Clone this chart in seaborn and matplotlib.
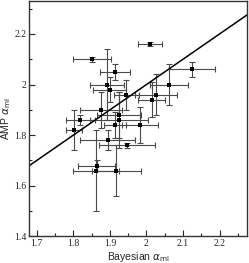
import numpy as np
import pandas as pd
import matplotlib
matplotlib.use('Agg')
import matplotlib.pyplot as plt
from matplotlib.ticker import MultipleLocator
import seaborn as sns

# values
bayes = [2.010, 1.852, 1.914, 1.892, 1.900, 1.945, 2.125, 2.063, 2.015, 2.027,
         1.875, 1.819, 1.802, 1.924, 1.925, 1.913, 1.983, 1.894, 1.946, 1.864,
         1.862, 1.918]
amp = [2.16, 2.10, 2.05, 2.00, 1.98, 1.96, 2.06, 2.00, 1.94, 1.96,
       1.90, 1.86, 1.82, 1.88, 1.86, 1.84, 1.84, 1.78, 1.76, 1.68,
       1.66, 1.66]
bayes_err = [0.032, 0.052, 0.040, 0.047, 0.045, 0.035, 0.062, 0.052, 0.037, 0.057,
             0.057, 0.040, 0.022, 0.060, 0.080, 0.030, 0.050, 0.075, 0.077, 0.051,
             0.062, 0.066]
amp_err = [0.007, 0.010, 0.030, 0.140, 0.050, 0.060, 0.030, 0.080, 0.070, 0.080,
           0.070, 0.020, 0.080, 0.090, 0.110, 0.050, 0.070, 0.040, 0.010, 0.020,
           0.160, 0.100]
diag = [1.68, 2.275]
xt = [1.7, 1.8, 1.9, 2.0, 2.1, 2.2]
xt_labels = ['1.7', '1.8', '1.9', '2', '2.1', '2.2']
yt = [1.4, 1.6, 1.8, 2.0, 2.2]
yt_labels = ['1.4', '1.6', '1.8', '2', '2.2']

df = pd.DataFrame({'bayes': bayes, 'amp': amp, 'xerr': bayes_err, 'yerr': amp_err})

sns.set_style('ticks')
fig = plt.figure(figsize=(2.49, 2.63), dpi=100)
ax = fig.add_axes([0.118, 0.101, 0.874, 0.897])

# error bars first, then the points on top
ax.errorbar(df.bayes, df.amp, xerr=df.xerr, yerr=df.yerr, fmt='none',
            ecolor='#4a4a4a', elinewidth=0.8, capsize=2.5, capthick=0.8)
sns.scatterplot(data=df, x='bayes', y='amp', ax=ax, color='black', marker='s',
                s=7, linewidth=0, zorder=3)
sns.lineplot(x=diag, y=diag, ax=ax, color='black', linewidth=1.1)

ax.set_xlim(1.68, 2.275)
ax.set_ylim(1.4, 2.332)
ax.set_xticks(xt)
ax.set_xticklabels(xt_labels)
ax.set_yticks(yt)
ax.set_yticklabels(yt_labels)
ax.xaxis.set_minor_locator(MultipleLocator(0.05))
ax.yaxis.set_minor_locator(MultipleLocator(0.1))
ax.tick_params(which='both', direction='in', width=0.8)
ax.tick_params(which='major', length=4, labelsize=7, pad=2)
ax.tick_params(which='minor', length=2)
for lab in ax.get_xticklabels() + ax.get_yticklabels():
    lab.set_fontfamily('Liberation Serif')
for sp in ax.spines.values():
    sp.set_linewidth(1.0)
    sp.set_color('#333333')

ax.set_xlabel(r'Bayesian $\alpha_{\rm ml}$', fontsize=7.5, family='Liberation Sans', labelpad=1)
ax.set_ylabel(r'AMP $\alpha_{\rm ml}$', fontsize=7.5, family='Liberation Sans', labelpad=1)

fig.savefig('out.png', dpi=100)
